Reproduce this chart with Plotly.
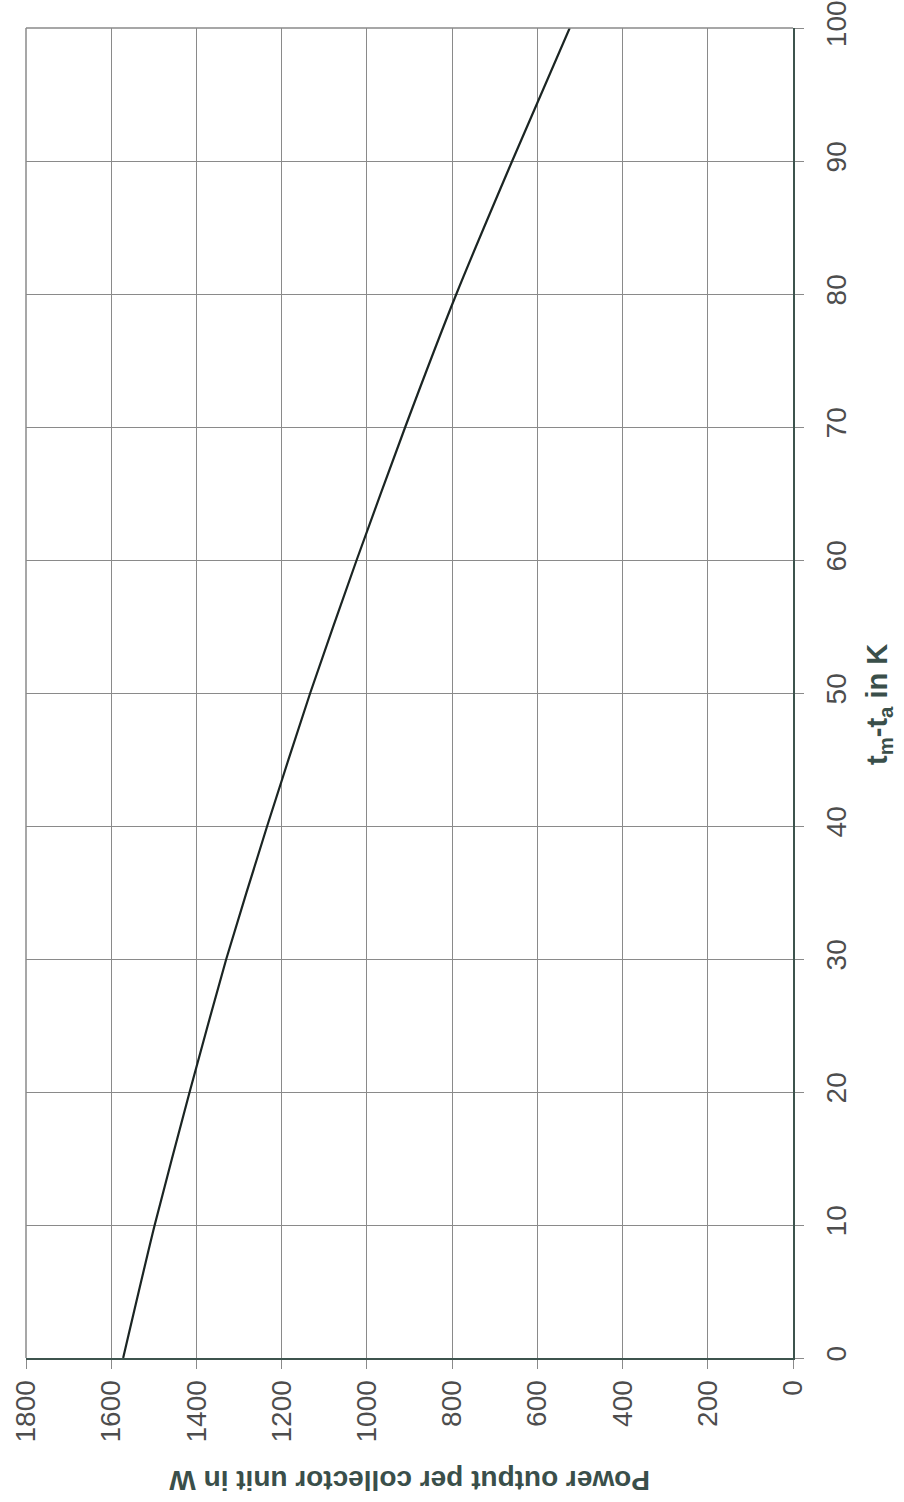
import plotly.graph_objects as go

# Temperature difference between mean fluid and ambient, K
temp_diff = [0, 10, 20, 30, 40, 50, 60, 70, 80, 90, 100]
# Power output per collector unit, W
power_w = [1572, 1498, 1416, 1330, 1234, 1133, 1024, 910, 790, 659, 524]

power_ticks = [0, 200, 400, 600, 800, 1000, 1200, 1400, 1600, 1800]
temp_ticks = [0, 10, 20, 30, 40, 50, 60, 70, 80, 90, 100]

AXIS_COLOR = "#3d544e"
GRID_COLOR = "#8a8a8a"
TICK_FONT = dict(family="Liberation Sans, Arial, sans-serif", size=28, color="#4d4d4d")
TITLE_COLOR = "#3a4f4a"

fig = go.Figure()
fig.add_trace(go.Scatter(
    x=power_w, y=temp_diff, mode="lines",
    line=dict(color="#1b2523", width=2.2, shape="spline", smoothing=0.6),
    showlegend=False, hoverinfo="skip",
))

fig.update_layout(
    width=904, height=1502,
    margin=dict(l=26, r=111, t=28, b=144, autoexpand=False),
    paper_bgcolor="white", plot_bgcolor="white",
    font=dict(family="Liberation Sans, Arial, sans-serif"),
    xaxis=dict(
        range=[1800, 0], tickvals=power_ticks, ticktext=[str(v) for v in power_ticks],
        tickangle=-90, tickfont=TICK_FONT, ticks="outside", ticklen=9, tickwidth=1,
        tickcolor=GRID_COLOR, showgrid=True, gridcolor=GRID_COLOR, gridwidth=1,
        showline=True, linecolor=AXIS_COLOR, linewidth=2, zeroline=False,
        side="bottom", fixedrange=True, ticklabeloverflow="allow", automargin=False,
    ),
    yaxis=dict(
        range=[0, 100], tickvals=temp_ticks, ticktext=[str(v) for v in temp_ticks],
        tickangle=-90, tickfont=TICK_FONT, ticks="outside", ticklen=9, tickwidth=1,
        tickcolor=GRID_COLOR, showgrid=True, gridcolor=GRID_COLOR, gridwidth=1,
        showline=True, linecolor=AXIS_COLOR, linewidth=2, zeroline=False,
        side="right", ticklabelstandoff=8, fixedrange=True,
        ticklabeloverflow="allow", automargin=False,
    ),
)

# Left and top frame edges drawn as grid-coloured lines
fig.add_shape(type="line", xref="paper", yref="paper", x0=0, x1=0, y0=0, y1=1,
              line=dict(color=GRID_COLOR, width=1.5))
fig.add_shape(type="line", xref="paper", yref="paper", x0=0, x1=1, y0=1, y1=1,
              line=dict(color=GRID_COLOR, width=1.5))

# Vertical-axis title, reading upward on the right
fig.add_annotation(
    text="<b>t<sub>m</sub>-t<sub>a</sub> in K</b>",
    xref="paper", yref="paper", x=1, y=0.5, xshift=86, yshift=-12,
    xanchor="center", yanchor="middle",
    showarrow=False, textangle=-90,
    font=dict(size=29, color=TITLE_COLOR),
)

# Horizontal-axis title, turned upside down
fig.add_annotation(
    text="<b>Power output per collector unit in W</b>",
    xref="paper", yref="paper", x=0.50, y=0, yshift=-123,
    xanchor="center", yanchor="middle",
    showarrow=False, textangle=180,
    font=dict(size=28, color=TITLE_COLOR),
)

fig.write_html("out.html")
